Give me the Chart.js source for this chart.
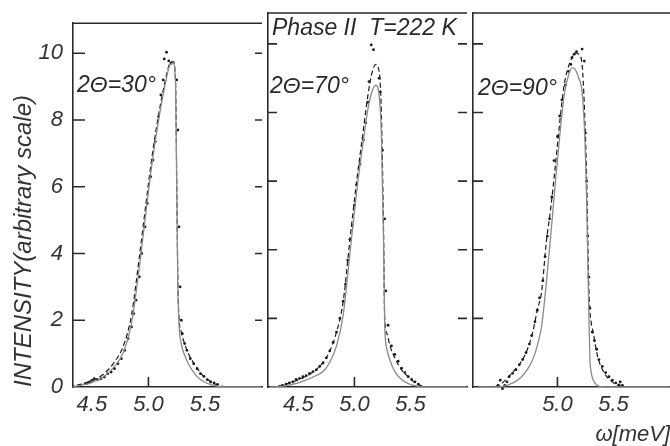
<!DOCTYPE html>
<html>
<head>
<meta charset="utf-8">
<script src="https://cdn.jsdelivr.net/npm/chart.js@4.4.0/dist/chart.umd.min.js"></script>
<style>
  body { margin: 0; background: #fff; width: 670px; height: 446px; overflow: hidden; position: relative; }
  canvas { position: absolute; top: 0; }
</style>
</head>
<body>
<canvas id="p30" width="266" height="446" style="left:0px"></canvas>
<canvas id="p70" width="207" height="446" style="left:264px"></canvas>
<canvas id="p90" width="205" height="446" style="left:469px"></canvas>
<script>
// shared axis ticks
const yTicks = [0, 2, 4, 6, 8, 10];
const xTicks30 = [4.5, 5.0, 5.5];
const xTicks70 = [4.5, 5.0, 5.5];
const xTicks90 = [5.0, 5.5];

// 2theta = 30 deg
const dots30X = [4.44,4.46,4.48,4.50,4.52,4.55,4.58,4.61,4.64,4.67,4.70,4.73,4.76,4.79,4.82,4.85,4.87,4.89,4.92,4.94,4.97,4.99,5.02,5.04,5.06,5.09,5.11,5.13,5.14,5.16,5.18,5.20,5.25,5.26,5.27,5.28,5.29,5.30,5.32,5.34,5.37,5.40,5.43,5.46,5.49,5.52,5.55,5.58,5.61];
const dots30Y = [0.10,0.12,0.15,0.20,0.25,0.22,0.25,0.30,0.40,0.45,0.55,0.70,0.85,1.10,1.45,1.80,2.20,2.60,3.30,4.00,4.80,5.50,6.30,6.80,7.35,8.10,8.75,9.20,9.83,10.03,9.77,9.70,9.20,7.70,4.80,3.00,2.00,1.60,1.30,1.10,0.85,0.70,0.55,0.40,0.32,0.22,0.15,0.12,0.08];
const fit30X = [4.30,4.40,4.50,4.60,4.70,4.78,4.85,4.92,4.98,5.04,5.10,5.15,5.19,5.22,5.24,5.25,5.26,5.27,5.29,5.32,5.36,5.42,5.48,5.55,5.62,5.70,6.00];
const solid30 = [0,0.05,0.13,0.3,0.62,1.05,1.9,3.6,5.3,6.9,8.2,9.1,9.65,9.7,9.0,6.0,3.0,1.9,1.3,0.95,0.65,0.35,0.18,0.07,0.02,0,0];
const dashed30 = [0.02,0.08,0.18,0.38,0.75,1.25,2.15,3.9,5.55,7.1,8.35,9.2,9.7,9.75,9.1,6.2,3.2,2.1,1.65,1.3,0.95,0.62,0.35,0.17,0.05,0,0];

// 2theta = 70 deg
const dots70X = [4.36,4.39,4.42,4.45,4.48,4.51,4.54,4.57,4.60,4.63,4.66,4.69,4.72,4.75,4.78,4.81,4.84,4.87,4.90,4.92,4.94,4.96,4.98,5.00,5.02,5.05,5.08,5.10,5.12,5.13,5.15,5.17,5.22,5.23,5.25,5.27,5.28,5.30,5.33,5.36,5.39,5.42,5.45,5.48,5.51,5.54,5.57];
const dots70Y = [0.05,0.08,0.12,0.15,0.22,0.25,0.30,0.33,0.40,0.45,0.50,0.60,0.70,0.85,1.05,1.30,1.60,2.00,2.50,3.00,3.70,4.30,4.70,5.30,5.90,6.50,7.20,7.70,8.30,8.90,9.97,9.83,9.00,8.60,6.90,4.90,2.80,1.80,1.20,0.95,0.75,0.55,0.42,0.30,0.22,0.15,0.08];
const fit70X = [4.25,4.35,4.45,4.55,4.65,4.72,4.78,4.84,4.90,4.96,5.02,5.08,5.12,5.16,5.19,5.22,5.24,5.26,5.27,5.29,5.32,5.36,5.42,5.48,5.55,5.62,5.70,6.00];
const solid70 = [0,0.02,0.08,0.18,0.32,0.45,0.72,1.2,2.1,3.9,5.7,7.2,8.1,8.65,8.8,8.5,7.4,4.2,1.8,1.1,0.75,0.45,0.22,0.1,0.03,0,0,0];
const dashed70 = [0,0.05,0.15,0.28,0.48,0.72,1.05,1.6,2.5,4.3,6.0,7.5,8.5,9.2,9.4,9.2,8.0,4.5,2.0,1.55,1.17,0.85,0.5,0.3,0.1,0.02,0,0];

// 2theta = 90 deg
const dots90X = [4.47,4.49,4.50,4.51,4.52,4.53,4.54,4.55,4.57,4.60,4.63,4.66,4.69,4.72,4.75,4.77,4.80,4.82,4.84,4.87,4.89,4.91,4.93,4.95,4.97,5.00,5.02,5.04,5.07,5.10,5.12,5.13,5.15,5.17,5.22,5.24,5.25,5.26,5.27,5.28,5.29,5.31,5.33,5.35,5.37,5.40,5.43,5.46,5.49,5.52,5.55,5.56,5.58];
const dots90Y = [0.05,0.20,-0.17,-0.05,-0.35,0.05,-0.15,0.15,0.30,0.40,0.50,0.65,0.80,1.00,1.25,1.50,1.90,2.24,2.60,3.10,3.80,4.40,4.90,5.54,6.60,7.30,7.90,8.37,8.80,9.20,9.40,9.60,9.70,9.77,9.85,9.50,7.40,6.00,4.40,3.20,2.30,1.60,1.35,1.10,0.80,0.60,0.42,0.30,0.20,0.12,0.06,0.15,0.05];
const fit90X = [4.30,4.40,4.48,4.55,4.62,4.68,4.73,4.78,4.82,4.86,4.90,4.94,4.98,5.02,5.06,5.10,5.13,5.16,5.19,5.22,5.24,5.26,5.27,5.28,5.29,5.30,5.32,5.36,5.42,5.48,5.55,5.65,6.00];
const solid90 = [0,0,0,0.05,0.15,0.3,0.5,0.8,1.2,1.8,3.0,4.4,5.9,7.3,8.5,9.1,9.3,9.25,9.0,8.6,7.6,5.5,3.8,2.2,0.8,0.45,0.2,0.04,0,0,0,0,0];
const dashed90 = [0,0,0.05,0.25,0.5,0.75,1.08,1.6,2.24,2.8,4.2,5.2,6.4,7.7,8.8,9.35,9.6,9.74,9.7,9.4,8.2,6.2,4.5,2.9,2.2,1.9,1.57,0.87,0.4,0.17,0.04,0,0];

Chart.defaults.font.family = '"Liberation Sans", Arial, sans-serif';
Chart.defaults.color = '#333';

const INK = '#2a2a2a';
const NOTE_FONT = 'italic 23px "Liberation Sans", Arial, sans-serif';

function pts(xs, ys) {
  return xs.map((x, i) => ({ x: x, y: ys[i] }));
}

// top border, inward tick marks and the text notes
const frame = {
  id: 'frame',
  afterDraw(chart, args, opts) {
    const { ctx, chartArea: a, scales: { x, y } } = chart;
    ctx.save();
    ctx.strokeStyle = INK;
    ctx.lineWidth = 1.6;
    ctx.beginPath();
    ctx.moveTo(a.left, a.top);
    ctx.lineTo(a.right, a.top);
    yTicks.forEach(v => {
      if (v === 0) return;
      const py = y.getPixelForValue(v);
      if (opts.leftTick) { ctx.moveTo(a.left, py); ctx.lineTo(a.left + opts.leftTick, py); }
      if (opts.rightTick) { ctx.moveTo(a.right, py); ctx.lineTo(a.right - opts.rightTick, py); }
    });
    const px = x.getPixelForValue(5.0);
    ctx.moveTo(px, a.bottom);
    ctx.lineTo(px, a.bottom - 10);
    ctx.stroke();

    ctx.fillStyle = '#2a2a2a';
    ctx.font = NOTE_FONT;
    ctx.textBaseline = 'middle';
    (opts.notes || []).forEach(n => ctx.fillText(n.text, n.x, n.y));
    ctx.restore();
  }
};

function makePanel(id, p) {
  return new Chart(document.getElementById(id), {
    type: 'scatter',
    data: {
      datasets: [
        { data: pts(p.fitX, p.solid), showLine: true, pointRadius: 0, borderColor: '#8a8a8a', borderWidth: 1.3, cubicInterpolationMode: 'monotone' },
        { data: pts(p.fitX, p.dashed), showLine: true, pointRadius: 0, borderColor: '#1a1a1a', borderWidth: 1.2, borderDash: [5, 3], cubicInterpolationMode: 'monotone' },
        { data: pts(p.dotsX, p.dotsY), pointRadius: 1.4, pointBackgroundColor: '#1a1a1a', pointBorderWidth: 0, clip: false }
      ]
    },
    options: {
      responsive: false,
      animation: false,
      layout: { padding: { top: 13, left: 0, right: 0, bottom: 0 } },
      plugins: {
        legend: { display: false },
        tooltip: { enabled: false },
        frame: { leftTick: p.leftTick, rightTick: p.rightTick, notes: p.notes }
      },
      scales: {
        x: {
          type: 'linear',
          min: p.xMin,
          max: p.xMax,
          afterBuildTicks: s => { s.ticks = p.xTicks.map(v => ({ value: v })); },
          afterFit: s => { s.height = 59; },
          grid: { display: false, drawTicks: false },
          border: { display: true, color: INK, width: 1.6 },
          ticks: {
            autoSkip: false, maxRotation: 0, padding: 5,
            font: { size: 22, style: 'italic' },
            callback: v => v.toFixed(1)
          },
          title: {
            display: !!p.xTitle, text: p.xTitle || '', align: 'end',
            font: { size: 22, style: 'italic', lineHeight: 1 },
            padding: { top: 0, bottom: 0 }
          }
        },
        y: {
          min: 0,
          max: 10.9,
          afterBuildTicks: s => { s.ticks = yTicks.map(v => ({ value: v })); },
          afterFit: s => { s.width = p.yWidth; },
          grid: { display: false, drawTicks: false },
          border: { display: true, color: INK, width: 1.6 },
          ticks: {
            display: p.yLabels, padding: 10,
            font: { size: 22, style: 'italic' }
          },
          title: {
            display: p.yLabels, text: 'INTENSITY(arbitrary scale)', align: 'start',
            font: { size: 24, style: 'italic' },
            padding: { top: 10, bottom: 0 }
          }
        }
      }
    },
    plugins: [frame]
  });
}

makePanel('p30', {
  fitX: fit30X, solid: solid30, dashed: dashed30, dotsX: dots30X, dotsY: dots30Y,
  xMin: 4.333, xMax: 6.004, xTicks: xTicks30, yWidth: 73, yLabels: true,
  leftTick: 12, rightTick: 7,
  notes: [{ text: '2Θ=30°', x: 77, y: 86 }]
});

makePanel('p70', {
  fitX: fit70X, solid: solid70, dashed: dashed70, dotsX: dots70X, dotsY: dots70Y,
  xMin: 4.229, xMax: 6.004, xTicks: xTicks70, yWidth: 2, yLabels: false,
  leftTick: 9, rightTick: 9,
  notes: [{ text: 'Phase II  T=222 K', x: 8, y: 29 }, { text: '2Θ=70°', x: 6, y: 87 }]
});

makePanel('p90', {
  fitX: fit90X, solid: solid90, dashed: dashed90, dotsX: dots90X, dotsY: dots90Y,
  xMin: 4.247, xMax: 6.004, xTicks: xTicks90, yWidth: 2, yLabels: false,
  leftTick: 10, rightTick: 0, xTitle: 'ω[meV]',
  notes: [{ text: '2Θ=90°', x: 9, y: 89 }]
});
</script>
</body>
</html>
